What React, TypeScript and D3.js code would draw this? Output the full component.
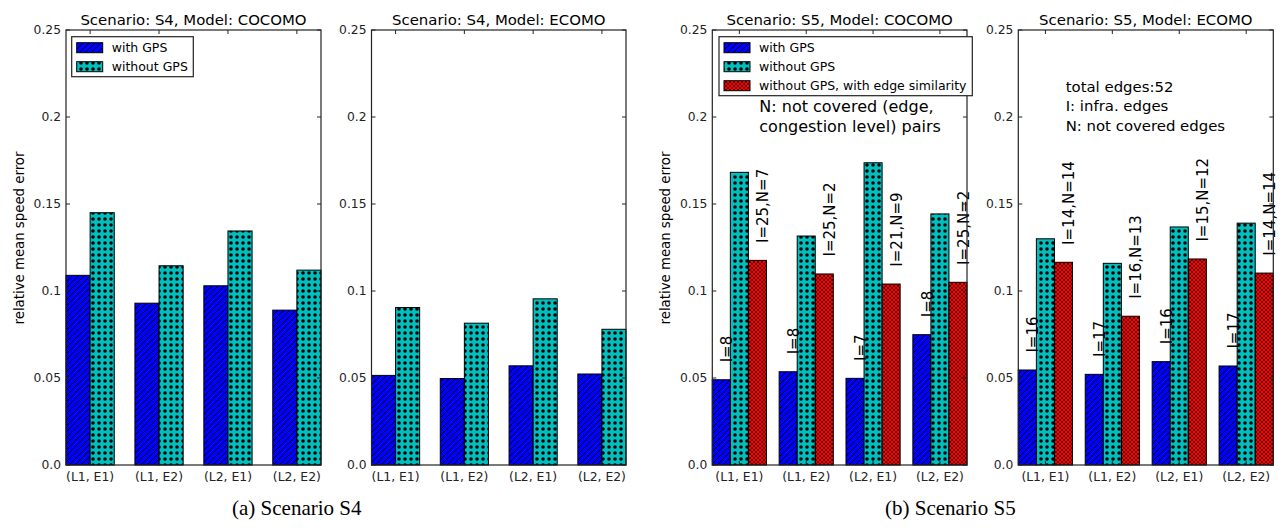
import * as d3 from "d3";

// categories and tick labels
const groups = ["(L1, E1)", "(L1, E2)", "(L2, E1)", "(L2, E2)"];
const yTicks = [0, 0.05, 0.1, 0.15, 0.2, 0.25];
const yTickLabels = ["0.0", "0.05", "0.1", "0.15", "0.2", "0.25"];

// scenario S4
const s4CocomoGps = [0.109, 0.093, 0.103, 0.089];
const s4CocomoNoGps = [0.145, 0.1145, 0.1345, 0.112];
const s4EcomoGps = [0.0515, 0.0497, 0.057, 0.0523];
const s4EcomoNoGps = [0.0905, 0.0815, 0.0955, 0.078];

// scenario S5
const s5CocomoGps = [0.049, 0.0536, 0.0498, 0.0749];
const s5CocomoNoGps = [0.1682, 0.1316, 0.1737, 0.1443];
const s5CocomoSim = [0.1176, 0.1098, 0.104, 0.105];
const s5CocomoGpsLabels = ["I=8", "I=8", "I=7", "I=8"];
const s5CocomoSimLabels = ["I=25,N=7", "I=25,N=2", "I=21,N=9", "I=25,N=2"];

const s5EcomoGps = [0.0546, 0.0521, 0.0594, 0.0569];
const s5EcomoNoGps = [0.13, 0.1159, 0.1368, 0.139];
const s5EcomoSim = [0.1165, 0.0855, 0.1184, 0.1103];
const s5EcomoGpsLabels = ["I=16", "I=17", "I=16", "I=17"];
const s5EcomoSimLabels = ["I=14,N=14", "I=16,N=13", "I=15,N=12", "I=14,N=14"];

const legendNames = ["with GPS", "without GPS", "without GPS, with edge similarity"];
const fills = ["url(#hBlue)", "url(#hCyan)", "url(#hRed)"];

const FONT = "DejaVu Sans, Verdana, sans-serif";
const TOP = 30;
const BOTTOM = 465;
const FRAME = "#222";

const y = d3.scaleLinear().domain([0, 0.25]).range([BOTTOM, TOP]);

type PanelProps = {
  left: number;
  right: number;
  title: string;
  series: number[][];
  barWidth: number;
  yLabel?: boolean;
  labels?: (string[] | null)[];
  legend?: { x0: number; x1: number; n: number };
  note?: { x: number; lines: string[]; y0: number; size: number; gap: number };
};

function Panel({ left, right, title, series, barWidth, yLabel, labels, legend, note }: PanelProps) {
  const n = series.length;
  const x = d3.scaleLinear().domain([0, 3 + n * barWidth]).range([left, right]);
  const bw = x(barWidth) - x(0);
  const tickPos = groups.map((_, i) => x(i + (n * barWidth) / 2));
  const lab = 15;

  return (
    <g fontFamily={FONT}>
      <text x={(left + right) / 2} y={25} textAnchor="middle" fontSize={14.9}>
        {title}
      </text>
      {series.map((vals, s) =>
        vals.map((v, i) => (
          <rect
            key={`${s}-${i}`}
            x={x(i + s * barWidth)}
            y={y(v)}
            width={bw}
            height={y(0) - y(v)}
            fill={fills[s]}
            stroke="#000"
            strokeWidth={1}
          />
        ))
      )}
      {labels &&
        labels.map((ls, s) =>
          ls
            ? ls.map((t, i) => {
                const cx = x(i + s * barWidth) + bw / 2;
                const cy = y(series[s][i] + 0.01);
                return (
                  <text
                    key={`l${s}-${i}`}
                    transform={`translate(${cx + lab * 0.73},${cy}) rotate(-90)`}
                    fontSize={lab}
                  >
                    {t}
                  </text>
                );
              })
            : null
        )}
      {/* frame */}
      <rect x={left} y={TOP} width={right - left} height={BOTTOM - TOP} fill="none" stroke={FRAME} strokeWidth={1.2} />
      {/* y ticks */}
      {yTicks.map((t, i) => (
        <g key={`yt${i}`}>
          <line x1={left} x2={left + 4} y1={y(t)} y2={y(t)} stroke={FRAME} />
          <line x1={right} x2={right - 4} y1={y(t)} y2={y(t)} stroke={FRAME} />
          <text x={left - 5} y={y(t) + 4.3} textAnchor="end" fontSize={12.3} fill="#222">
            {yTickLabels[i]}
          </text>
        </g>
      ))}
      {/* x ticks */}
      {tickPos.map((tx, i) => (
        <g key={`xt${i}`}>
          <line x1={tx} x2={tx} y1={TOP} y2={TOP + 4} stroke={FRAME} />
          <line x1={tx} x2={tx} y1={BOTTOM} y2={BOTTOM - 4} stroke={FRAME} />
          <text x={tx} y={481} textAnchor="middle" fontSize={12.4} fill="#222">
            {groups[i]}
          </text>
        </g>
      ))}
      {yLabel && (
        <text
          transform={`translate(${left - 42},238) rotate(-90)`}
          textAnchor="middle"
          fontSize={13.3}
        >
          relative mean speed error
        </text>
      )}
      {legend && (
        <g>
          <rect
            x={legend.x0}
            y={36.7}
            width={legend.x1 - legend.x0}
            height={legend.n * 19 + 2}
            fill="#fff"
            stroke={FRAME}
            strokeWidth={1.2}
          />
          {d3.range(legend.n).map((k) => (
            <g key={`lg${k}`}>
              <rect x={legend.x0 + 5} y={42.7 + k * 19} width={26} height={10} fill={fills[k]} stroke="#000" />
              <text x={legend.x0 + 40} y={52 + k * 19} fontSize={12.5}>
                {legendNames[k]}
              </text>
            </g>
          ))}
        </g>
      )}
      {note &&
        note.lines.map((t, k) => (
          <text key={`n${k}`} x={note.x} y={note.y0 + k * note.gap} fontSize={note.size}>
            {t}
          </text>
        ))}
    </g>
  );
}

export default function App() {
  return (
    <svg
      width={1282}
      height={528}
      style={{ position: "absolute", left: 0, top: 0, background: "#fff" }}
    >
      <defs>
        <pattern id="hBlue" patternUnits="userSpaceOnUse" width={6} height={6}>
          <rect width={6} height={6} fill="#0000ff" />
          <path d="M-1,1 L1,-1 M0,6 L6,0 M5,7 L7,5" stroke="#000" strokeWidth={0.9} />
        </pattern>
        <pattern id="hCyan" patternUnits="userSpaceOnUse" width={6} height={6}>
          <rect width={6} height={6} fill="#00bfbf" />
          <circle cx={3} cy={3} r={1.8} fill="#000" />
        </pattern>
        <pattern id="hRed" patternUnits="userSpaceOnUse" width={4} height={4}>
          <rect width={4} height={4} fill="#ff0000" />
          <path d="M0,0 L4,4 M4,0 L0,4" stroke="#000" strokeWidth={0.6} />
        </pattern>
      </defs>
      <rect width={1282} height={528} fill="#fff" />
      <Panel
        left={66}
        right={321}
        title="Scenario: S4, Model: COCOMO"
        series={[s4CocomoGps, s4CocomoNoGps]}
        barWidth={0.35}
        yLabel
        legend={{ x0: 71.7, x1: 193.3, n: 2 }}
      />
      <Panel
        left={371.5}
        right={626}
        title="Scenario: S4, Model: ECOMO"
        series={[s4EcomoGps, s4EcomoNoGps]}
        barWidth={0.35}
      />
      <Panel
        left={712.3}
        right={967}
        title="Scenario: S5, Model: COCOMO"
        series={[s5CocomoGps, s5CocomoNoGps, s5CocomoSim]}
        barWidth={0.27}
        yLabel
        labels={[s5CocomoGpsLabels, null, s5CocomoSimLabels]}
        legend={{ x0: 719, x1: 972.3, n: 3 }}
        note={{ x: 759.3, y0: 112, size: 16, gap: 19.5, lines: ["N: not covered (edge,", "congestion level) pairs"] }}
      />
      <Panel
        left={1018.3}
        right={1273.3}
        title="Scenario: S5, Model: ECOMO"
        series={[s5EcomoGps, s5EcomoNoGps, s5EcomoSim]}
        barWidth={0.27}
        labels={[s5EcomoGpsLabels, null, s5EcomoSimLabels]}
        note={{ x: 1065.7, y0: 91.7, size: 14.9, gap: 19.5, lines: ["total edges:52", "I: infra. edges", "N: not covered edges"] }}
      />
      <text x={232} y={515} fontFamily="Liberation Serif, Times New Roman, serif" fontSize={21}>
        (a) Scenario S4
      </text>
      <text x={885} y={515} fontFamily="Liberation Serif, Times New Roman, serif" fontSize={21}>
        (b) Scenario S5
      </text>
    </svg>
  );
}
